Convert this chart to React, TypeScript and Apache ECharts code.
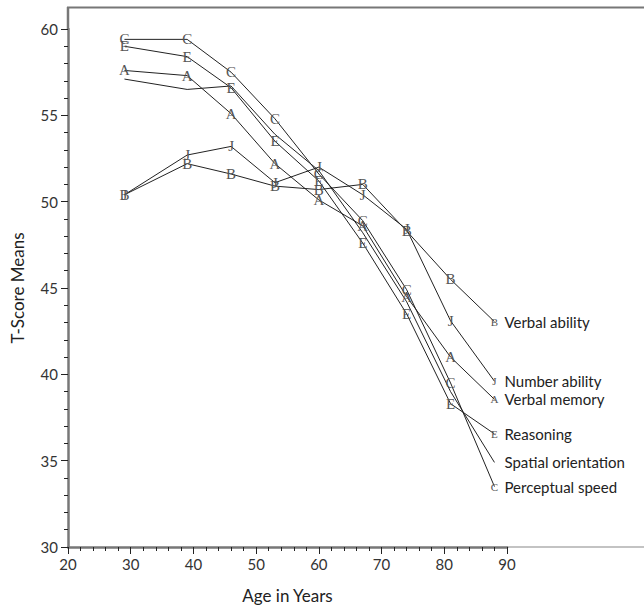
import React, { useEffect, useRef } from "react";
import * as echarts from "echarts";

const ages = [29, 39, 46, 53, 60, 67, 74, 81, 88];
const verbalAbility = [50.4, 52.2, 51.6, 50.9, 50.7, 51.0, 48.3, 45.5, 43.05];
const numberAbility = [50.4, 52.7, 53.2, 51.1, 52.0, 50.4, 48.4, 43.1, 39.6];
const verbalMemory = [57.6, 57.3, 55.1, 52.2, 50.1, 48.6, 44.5, 41.0, 38.55];
const reasoning = [59.0, 58.4, 56.6, 53.5, 51.2, 47.6, 43.5, 38.3, 36.55];
const spatialOrientation = [57.1, 56.5, 56.7, 53.9, 51.8, 48.2, 44.2, 39.0, 34.9];
const perceptualSpeed = [59.4, 59.4, 57.5, 54.8, 51.6, 48.9, 44.9, 39.5, 33.5];

const seriesDefs = [
  { name: "Verbal ability", marker: "B", values: verbalAbility },
  { name: "Number ability", marker: "J", values: numberAbility },
  { name: "Verbal memory", marker: "A", values: verbalMemory },
  { name: "Reasoning", marker: "E", values: reasoning },
  { name: "Spatial orientation", marker: "", values: spatialOrientation },
  { name: "Perceptual speed", marker: "C", values: perceptualSpeed },
];

const sans = "Lato, 'Open Sans', sans-serif";
const serif = "'Liberation Serif', 'DejaVu Serif', serif";

export default function App() {
  const ref = useRef<HTMLDivElement>(null);
  useEffect(() => {
    document.body.style.margin = "0";
    if (!ref.current) return;
    const chart = echarts.init(ref.current, null, { renderer: "svg" });
    const series = seriesDefs.map((s) => ({
      type: "line",
      name: s.name,
      data: ages.map((a, i) => {
        const last = i === ages.length - 1;
        return {
          value: [a, s.values[i]],
          label: last ? { fontSize: 11 } : undefined,
        };
      }),
      symbol: "circle",
      symbolSize: 1,
      itemStyle: { color: "rgba(0,0,0,0)" },
      lineStyle: { color: "#222", width: 1 },
      label: {
        show: s.marker !== "",
        position: "inside",
        formatter: s.marker,
        fontFamily: serif,
        fontSize: 15,
        color: "#555",
      },
      endLabel: {
        show: true,
        formatter: s.name,
        distance: 10,
        fontFamily: sans,
        fontSize: 15,
        color: "#222",
      },
      emphasis: { disabled: true },
    }));
    chart.setOption({
      animation: false,
      grid: { left: 68, right: 137, top: 29, bottom: 63 },
      xAxis: {
        type: "value",
        min: 20,
        max: 90,
        interval: 10,
        name: "Age in Years",
        nameLocation: "middle",
        nameGap: 40,
        nameTextStyle: { fontFamily: sans, fontSize: 17, color: "#222" },
        axisLine: { lineStyle: { color: "#777", width: 2.5 } },
        axisTick: { length: 7, lineStyle: { color: "#222" } },
        minorTick: { show: true, splitNumber: 5, length: 4, lineStyle: { color: "#222" } },
        splitLine: { show: false },
        axisLabel: { fontFamily: sans, fontSize: 15, color: "#333", margin: 9 },
      },
      yAxis: {
        type: "value",
        min: 30,
        max: 60,
        interval: 5,
        name: "T-Score Means",
        nameLocation: "middle",
        nameGap: 42,
        nameTextStyle: { fontFamily: sans, fontSize: 17, color: "#222" },
        axisLine: { show: true, lineStyle: { color: "#777", width: 2.5 } },
        axisTick: { show: true, length: 7, lineStyle: { color: "#222" } },
        minorTick: { show: true, splitNumber: 5, length: 4, lineStyle: { color: "#222" } },
        splitLine: { show: false },
        axisLabel: { fontFamily: sans, fontSize: 15, color: "#333", margin: 10 },
      },
      graphic: [
        { type: "line", shape: { x1: 67, y1: 7.5, x2: 644, y2: 7.5 }, style: { stroke: "#777", lineWidth: 2 } },
        { type: "line", shape: { x1: 68, y1: 7, x2: 68, y2: 29 }, style: { stroke: "#777", lineWidth: 2.5 } },
        { type: "line", shape: { x1: 507, y1: 547, x2: 644, y2: 547 }, style: { stroke: "#888", lineWidth: 1.2 } },
      ],
      series,
    });
    return () => chart.dispose();
  }, []);
  return <div ref={ref} style={{ width: 644, height: 610 }} />;
}
